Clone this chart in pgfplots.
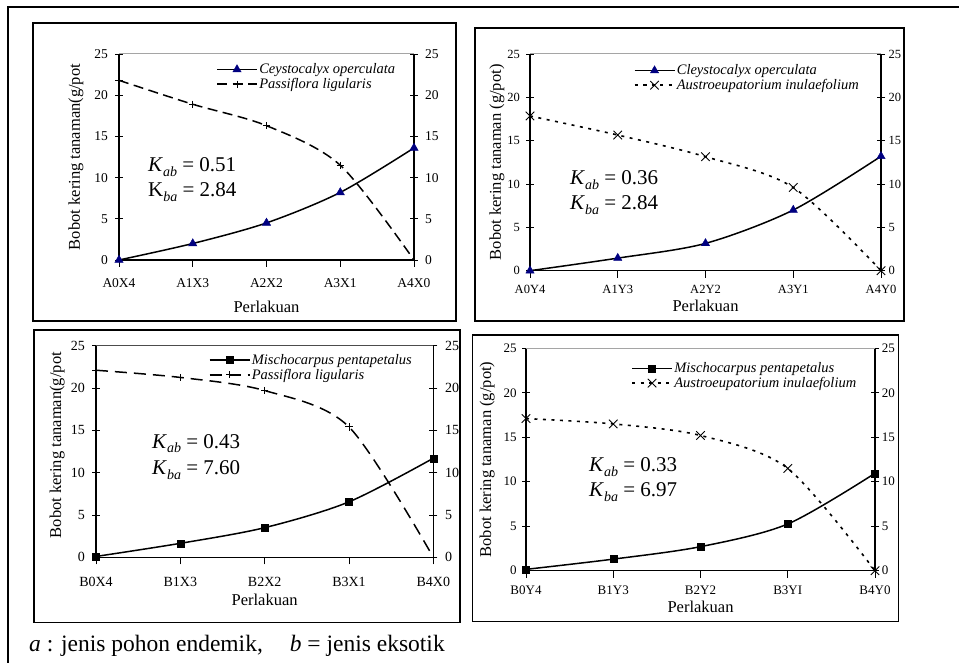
\documentclass[border=0pt]{standalone}
\usepackage{pgfplots}
\pgfplotsset{compat=1.18}
\usepackage{fontspec}
\setmainfont{Liberation Serif}
\definecolor{navyb}{RGB}{0,0,128}
\definecolor{topgray}{RGB}{165,165,165}

\newcommand{\Kab}[3]{#1\raisebox{-0.22em}{\fontsize{14}{14}\selectfont\itshape #2} = #3}

\pgfplotsset{
  geom/.style n args={4}{scale only axis, at={(#1pt,#2pt)}, anchor=south west, width=#3pt, height=#4pt,
     xmin=0, xmax=4, ymin=0, ymax=25, clip=false},
  xax/.style={axis y line=none, axis x line*=bottom, axis line style={line width=1.2pt,-},
     tick align=outside, major tick length=7pt, tick style={black,line width=0.9pt},
     xtick={0,1,2,3,4}, xticklabel style={anchor=center, inner sep=0pt}},
  lax/.style={axis x line=none, axis y line*=left, axis line style={line width=1.2pt,-},
     tick align=center, major tick length=8pt, tick style={black,line width=0.9pt},
     ytick={0,5,10,15,20,25}, yticklabel style={anchor=east, inner sep=0pt},
     /pgf/number format/assume math mode=true},
  rax/.style={axis x line=none, axis y line*=right, axis line style={line width=1.2pt,-},
     tick align=center, major tick length=8pt, tick style={black,line width=0.9pt},
     ytick={0,5,10,15,20,25}, yticklabel style={anchor=west, inner sep=0pt},
     /pgf/number format/assume math mode=true},
  yfs/.style={yticklabel={\fontsize{#1}{#1}\selectfont\pgfmathprintnumber{\tick}}},
  leg/.style 2 args={legend style={at={(#1,#2)}, anchor=north west, draw=none, fill=none,
     inner sep=0pt, row sep=0pt, cells={anchor=west},
     nodes={inner sep=1.5pt},
     font=\fontsize{14.5}{15.5}\selectfont\itshape},
     legend image code/.code={\draw[mark repeat=2,mark phase=2,##1] plot coordinates {(0pt,0pt) (20pt,0pt) (40pt,0pt)};}},
  tri/.style={black, line width=1.5pt, smooth, tension=0.5, mark=triangle*, mark size=4.8pt,
     mark options={solid, fill=navyb, draw=navyb, line width=0.4pt}},
  sq/.style={black, line width=1.5pt, smooth, tension=0.5, mark=square*, mark size=3.5pt,
     mark options={solid, fill=black, draw=black, line width=0.4pt}},
  pas/.style={black, line width=1.5pt, smooth, tension=0.5, dash pattern=on 10pt off 5.5pt,
     mark=+, mark size=3.6pt, mark options={solid, line width=0.9pt}},
  aus/.style={black, line width=1.6pt, smooth, tension=0.5, dash pattern=on 3pt off 5.5pt,
     mark=x, mark size=6pt, mark options={solid, line width=0.9pt}},
}

\begin{document}
\begin{tikzpicture}[x=1pt,y=1pt]
\useasboundingbox (0,0) rectangle (959,663);
\draw[line width=2pt] (8,0) -- (8,656) -- (959,656);

% ---------------- Panel 1 ----------------
\draw[line width=1.3pt] (33,640) rectangle (456,342);
\begin{scope}
\clip (33,640) rectangle (456,342);
\begin{axis}[geom={119}{403}{295}{206}, xax,
  xticklabels={A0X4,A1X3,A2X2,A3X1,A4X0},
  xticklabel style={yshift=-16pt, font=\fontsize{13.5}{13.5}\selectfont},
  xlabel={Perlakuan}, xlabel style={at={([yshift=-47pt]axis description cs:0.5,0)}, anchor=center, font=\fontsize{16.5}{16.5}\selectfont}]
\addplot[draw=none] coordinates {(0,0)};
\end{axis}
\begin{axis}[geom={119}{403}{295}{206}, rax, yfs=13.5,
  yticklabel style={xshift=7pt}]
\addplot[draw=none] coordinates {(0,0)};
\end{axis}
\begin{axis}[geom={119}{403}{295}{206}, lax, yfs=13.5,
  yticklabel style={xshift=-7pt},
  ylabel={Bobot kering tanaman(g/pot}, ylabel style={at={([xshift=-43pt]axis description cs:0,0.5)}, anchor=center, font=\fontsize{16.5}{16.5}\selectfont},
  leg={0.329}{0.961}]
\draw[topgray, line width=1pt] (rel axis cs:0,1) -- (rel axis cs:1,1);
\addplot[tri] coordinates {(0,0) (1,2.0) (2,4.5) (3,8.2) (4,13.6)};
\addlegendentry{Ceystocalyx operculata}
\addplot[pas] coordinates {(0,21.8) (1,18.9) (2,16.3) (3,11.5) (4,0)};
\addlegendentry{Passiflora ligularis}
\end{axis}
\end{scope}
\node[anchor=base west, inner sep=0pt, font=\fontsize{21}{24}\selectfont] at (148,491) {\Kab{\textit{K}}{ab}{0.51}};
\node[anchor=base west, inner sep=0pt, font=\fontsize{21}{24}\selectfont] at (148,466) {\Kab{K}{ba}{2.84}};

% ---------------- Panel 2 ----------------
\draw[line width=1.3pt] (475,635) rectangle (904,342);
\begin{scope}
\clip (475,635) rectangle (904,342);
\begin{axis}[geom={530}{392.3}{351}{216.7}, xax,
  xticklabels={A0Y4,A1Y3,A2Y2,A3Y1,A4Y0},
  xticklabel style={yshift=-11.6pt, font=\fontsize{12.5}{12.5}\selectfont},
  xlabel={Perlakuan}, xlabel style={at={([yshift=-35.3pt]axis description cs:0.5,0)}, anchor=center, font=\fontsize{16.5}{16.5}\selectfont}]
\addplot[draw=none] coordinates {(0,0)};
\end{axis}
\begin{axis}[geom={530}{392.3}{351}{216.7}, rax, yfs=12.5,
  yticklabel style={xshift=3.3pt}]
\addplot[draw=none] coordinates {(0,0)};
\end{axis}
\begin{axis}[geom={530}{392.3}{351}{216.7}, lax, yfs=12.5,
  yticklabel style={xshift=-6pt},
  ylabel={Bobot kering tanaman (g/pot)}, ylabel style={at={([xshift=-33pt]axis description cs:0,0.5)}, anchor=center, font=\fontsize{16.5}{16.5}\selectfont},
  leg={0.295}{0.958}]
\draw[topgray, line width=1pt] (rel axis cs:0,1) -- (rel axis cs:1,1);
\addplot[tri] coordinates {(0,0) (1,1.45) (2,3.15) (3,7.0) (4,13.2)};
\addlegendentry{Cleystocalyx operculata}
\addplot[aus] coordinates {(0,17.85) (1,15.65) (2,13.15) (3,9.6) (4,0)};
\addlegendentry{Austroeupatorium inulaefolium}
\end{axis}
\end{scope}
\node[anchor=base west, inner sep=0pt, font=\fontsize{21}{24}\selectfont] at (570,478) {\Kab{\textit{K}}{ab}{0.36}};
\node[anchor=base west, inner sep=0pt, font=\fontsize{21}{24}\selectfont] at (570,453) {\Kab{\textit{K}}{ba}{2.84}};

% ---------------- Panel 3 ----------------
\draw[line width=1.3pt] (34,333) rectangle (460,40.3);
\begin{scope}
\clip (34,333) rectangle (460,40.3);
\begin{axis}[geom={96}{105.7}{337.3}{211.6}, xax,
  xticklabels={B0X4,B1X3,B2X2,B3X1,B4X0},
  xticklabel style={yshift=-17.4pt, font=\fontsize{14}{14}\selectfont},
  xlabel={Perlakuan}, xlabel style={at={([yshift=-42.7pt]axis description cs:0.5,0)}, anchor=center, font=\fontsize{16.5}{16.5}\selectfont}]
\addplot[draw=none] coordinates {(0,0)};
\end{axis}
\begin{axis}[geom={96}{105.7}{337.3}{211.6}, rax, yfs=14,
  yticklabel style={xshift=7.7pt}]
\addplot[draw=none] coordinates {(0,0)};
\end{axis}
\begin{axis}[geom={96}{105.7}{337.3}{211.6}, lax, yfs=14,
  yticklabel style={xshift=-7pt},
  ylabel={Bobot kering tanaman(g/pot}, ylabel style={at={([xshift=-38.7pt]axis description cs:0,0.53)}, anchor=center, font=\fontsize{16.5}{16.5}\selectfont},
  leg={0.334}{0.967}]
\draw[black!70, line width=1pt] (rel axis cs:0,1) -- (rel axis cs:1,1);
\addplot[sq] coordinates {(0,0.1) (1,1.65) (2,3.5) (3,6.55) (4,11.7)};
\addlegendentry{Mischocarpus pentapetalus}
\addplot[pas, dash pattern=on 12pt off 7pt] coordinates {(0,22.1) (1,21.25) (2,19.7) (3,15.4) (4,0)};
\addlegendentry{Passiflora ligularis}
\end{axis}
\end{scope}
\node[anchor=base west, inner sep=0pt, font=\fontsize{21}{24}\selectfont] at (152,214.7) {\Kab{\textit{K}}{ab}{0.43}};
\node[anchor=base west, inner sep=0pt, font=\fontsize{21}{24}\selectfont] at (152,188) {\Kab{\textit{K}}{ba}{7.60}};

% ---------------- Panel 4 ----------------
\draw[line width=1.3pt] (472.7,328) rectangle (898.3,41.3);
\begin{scope}
\clip (472.7,328) rectangle (898.3,41.3);
\begin{axis}[geom={526}{92.3}{349}{222.4}, xax,
  xticklabels={B0Y4,B1Y3,B2Y2,B3YI,B4Y0},
  xticklabel style={yshift=-13pt, font=\fontsize{13}{13}\selectfont},
  xlabel={Perlakuan}, xlabel style={at={([yshift=-36pt]axis description cs:0.5,0)}, anchor=center, font=\fontsize{16.5}{16.5}\selectfont}]
\addplot[draw=none] coordinates {(0,0)};
\end{axis}
\begin{axis}[geom={526}{92.3}{349}{222.4}, rax, yfs=13,
  yticklabel style={xshift=2.7pt}]
\addplot[draw=none] coordinates {(0,0)};
\end{axis}
\begin{axis}[geom={526}{92.3}{349}{222.4}, lax, yfs=13,
  yticklabel style={xshift=-5.3pt},
  ylabel={Bobot kering tanaman (g/pot)}, ylabel style={at={([xshift=-38.7pt]axis description cs:0,0.5)}, anchor=center, font=\fontsize{16.5}{16.5}\selectfont},
  leg={0.301}{0.943}]
\draw[topgray, line width=1pt] (rel axis cs:0,1) -- (rel axis cs:1,1);
\addplot[sq] coordinates {(0,0.15) (1,1.3) (2,2.7) (3,5.25) (4,10.95)};
\addlegendentry{Mischocarpus pentapetalus}
\addplot[aus] coordinates {(0,17.1) (1,16.5) (2,15.2) (3,11.5) (4,0)};
\addlegendentry{Austroeupatorium inulaefolium}
\end{axis}
\end{scope}
\node[anchor=base west, inner sep=0pt, font=\fontsize{21}{24}\selectfont] at (589,191.3) {\Kab{\textit{K}}{ab}{0.33}};
\node[anchor=base west, inner sep=0pt, font=\fontsize{21}{24}\selectfont] at (589,166.3) {\Kab{\textit{K}}{ba}{6.97}};

% caption
\node[anchor=base west, inner sep=0pt, font=\fontsize{23.5}{26}\selectfont] at (29,11.5) {\textit{a} : jenis pohon endemik,\hspace{27pt}\textit{b} = jenis eksotik};
\end{tikzpicture}
\end{document}
